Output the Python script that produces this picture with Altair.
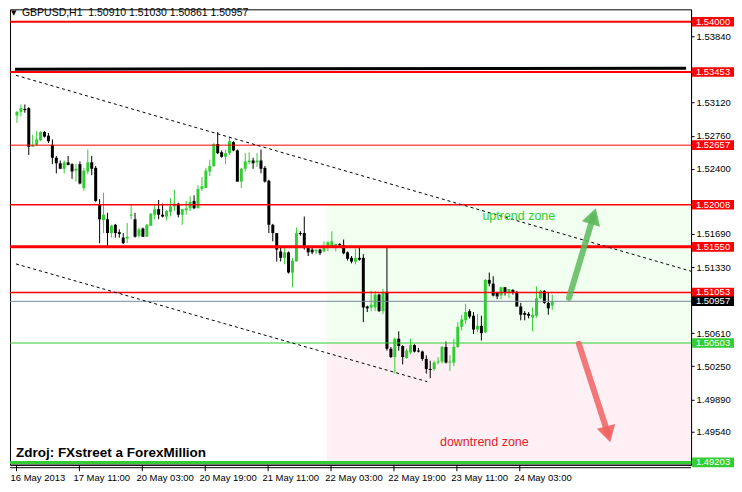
import altair as alt
import pandas as pd

# ---------------- data ----------------
opens = [1.5298, 1.5302, 1.5305, 1.5306, 1.5264, 1.5266, 1.5271, 1.5280, 1.5276, 1.5266,
         1.5252, 1.5246, 1.5240, 1.5247, 1.5245, 1.5238, 1.5245, 1.5219, 1.5237, 1.5247,
         1.5241, 1.5201, 1.5184, 1.5185, 1.5170, 1.5179, 1.5171, 1.5165, 1.5164, 1.5189,
         1.5185, 1.5167, 1.5175, 1.5166, 1.5178, 1.5190, 1.5196, 1.5190, 1.5188, 1.5193,
         1.5199, 1.5202, 1.5190, 1.5195, 1.5197, 1.5205, 1.5197, 1.5218, 1.5219, 1.5237,
         1.5243, 1.5267, 1.5258, 1.5253, 1.5257, 1.5269, 1.5260, 1.5226, 1.5240, 1.5247,
         1.5249, 1.5247, 1.5249, 1.5241, 1.5227, 1.5179, 1.5170, 1.5150, 1.5143, 1.5149,
         1.5127, 1.5139, 1.5170, 1.5170, 1.5154, 1.5152, 1.5150, 1.5152, 1.5150, 1.5154,
         1.5156, 1.5155, 1.5158, 1.5157, 1.5149, 1.5143, 1.5139, 1.5143, 1.5143, 1.5090,
         1.5089, 1.5089, 1.5103, 1.5085, 1.5106, 1.5044, 1.5035, 1.5055, 1.5047, 1.5034,
         1.5040, 1.5048, 1.5042, 1.5041, 1.5033, 1.5022, 1.5022, 1.5029, 1.5030, 1.5046,
         1.5029, 1.5029, 1.5046, 1.5068, 1.5075, 1.5085, 1.5080, 1.5065, 1.5069, 1.5062,
         1.5119, 1.5115, 1.5105, 1.5102, 1.5111, 1.5105, 1.5108, 1.5106, 1.5090, 1.5083,
         1.5082, 1.5078, 1.5080, 1.5099, 1.5107, 1.5094, 1.50910]
highs = [1.5303, 1.5310, 1.5310, 1.5307, 1.5277, 1.5281, 1.5281, 1.5281, 1.5279, 1.5272,
         1.5254, 1.5249, 1.5249, 1.5254, 1.5246, 1.5245, 1.5248, 1.5241, 1.5261, 1.5254,
         1.5243, 1.5207, 1.5214, 1.5192, 1.5179, 1.5180, 1.5174, 1.5170, 1.5181, 1.5201,
         1.5192, 1.5176, 1.5176, 1.5180, 1.5192, 1.5201, 1.5206, 1.5202, 1.5195, 1.5208,
         1.5217, 1.5203, 1.5196, 1.5205, 1.5210, 1.5211, 1.5222, 1.5231, 1.5241, 1.5250,
         1.5268, 1.5280, 1.5260, 1.5261, 1.5275, 1.5270, 1.5261, 1.5241, 1.5257, 1.5258,
         1.5252, 1.5257, 1.5261, 1.5243, 1.5228, 1.5180, 1.5170, 1.5156, 1.5156, 1.5150,
         1.5143, 1.5176, 1.5172, 1.5188, 1.5156, 1.5156, 1.5152, 1.5153, 1.5161, 1.5161,
         1.5172, 1.5158, 1.5159, 1.5163, 1.5150, 1.5145, 1.5153, 1.5154, 1.5147, 1.5091,
         1.5107, 1.5107, 1.5104, 1.5109, 1.5156, 1.5046, 1.5056, 1.5063, 1.5048, 1.5044,
         1.5055, 1.5049, 1.5045, 1.5042, 1.5037, 1.5031, 1.5031, 1.5035, 1.5047, 1.5052,
         1.5037, 1.5055, 1.5073, 1.5081, 1.5093, 1.5087, 1.5084, 1.5082, 1.5080, 1.5120,
         1.5127, 1.5123, 1.5106, 1.5111, 1.5111, 1.5109, 1.5109, 1.5107, 1.5094, 1.5085,
         1.5084, 1.5089, 1.5112, 1.5108, 1.5108, 1.5105, 1.51030]
lows = [1.5290, 1.5297, 1.5301, 1.5255, 1.5264, 1.5265, 1.5270, 1.5274, 1.5268, 1.5245,
        1.5235, 1.5240, 1.5235, 1.5244, 1.5229, 1.5226, 1.5223, 1.5216, 1.5234, 1.5233,
        1.5204, 1.5159, 1.5170, 1.5156, 1.5165, 1.5165, 1.5165, 1.5158, 1.5159, 1.5185,
        1.5165, 1.5165, 1.5166, 1.5166, 1.5178, 1.5185, 1.5185, 1.5187, 1.5184, 1.5188,
        1.5194, 1.5187, 1.5179, 1.5190, 1.5194, 1.5196, 1.5197, 1.5216, 1.5219, 1.5232,
        1.5242, 1.5256, 1.5252, 1.5245, 1.5255, 1.5259, 1.5226, 1.5219, 1.5237, 1.5245,
        1.5240, 1.5242, 1.5235, 1.5225, 1.5170, 1.5161, 1.5139, 1.5139, 1.5136, 1.5126,
        1.5111, 1.5139, 1.5167, 1.5152, 1.5145, 1.5147, 1.5147, 1.5146, 1.5149, 1.5150,
        1.5154, 1.5150, 1.5154, 1.5147, 1.5140, 1.5137, 1.5136, 1.5140, 1.5073, 1.5084,
        1.5085, 1.5085, 1.5084, 1.5082, 1.5042, 1.5034, 1.5017, 1.5042, 1.5027, 1.5033,
        1.5038, 1.5040, 1.5040, 1.5031, 1.5017, 1.5012, 1.5020, 1.5027, 1.5028, 1.5028,
        1.5020, 1.5025, 1.5045, 1.5064, 1.5071, 1.5077, 1.5060, 1.5062, 1.5053, 1.5061,
        1.5112, 1.5101, 1.5098, 1.5098, 1.5102, 1.5099, 1.5103, 1.5090, 1.5075, 1.5075,
        1.5077, 1.5063, 1.5078, 1.5098, 1.5093, 1.5081, 1.50861]
closes = [1.5302, 1.5306, 1.5304, 1.5264, 1.5266, 1.5272, 1.5280, 1.5275, 1.5270, 1.5252,
          1.5246, 1.5240, 1.5247, 1.5244, 1.5237, 1.5240, 1.5224, 1.5238, 1.5247, 1.5240,
          1.5205, 1.5185, 1.5190, 1.5170, 1.5178, 1.5170, 1.5169, 1.5159, 1.5166, 1.5190,
          1.5166, 1.5174, 1.5166, 1.5179, 1.5191, 1.5196, 1.5190, 1.5188, 1.5194, 1.5199,
          1.5202, 1.5190, 1.5196, 1.5197, 1.5204, 1.5197, 1.5218, 1.5221, 1.5238, 1.5243,
          1.5267, 1.5257, 1.5253, 1.5257, 1.5270, 1.5260, 1.5226, 1.5240, 1.5248, 1.5249,
          1.5246, 1.5249, 1.5240, 1.5226, 1.5179, 1.5170, 1.5152, 1.5143, 1.5149, 1.5127,
          1.5140, 1.5170, 1.5169, 1.5154, 1.5149, 1.5149, 1.5152, 1.5148, 1.5156, 1.5160,
          1.5161, 1.5158, 1.5157, 1.5148, 1.5142, 1.5139, 1.5143, 1.5141, 1.5089, 1.5088,
          1.5092, 1.5103, 1.5085, 1.5106, 1.5044, 1.5035, 1.5055, 1.5047, 1.5035, 1.5042,
          1.5048, 1.5041, 1.5041, 1.5033, 1.5022, 1.5021, 1.5029, 1.5030, 1.5046, 1.5029,
          1.5030, 1.5046, 1.5068, 1.5076, 1.5084, 1.5079, 1.5065, 1.5069, 1.5061, 1.5119,
          1.5115, 1.5102, 1.5101, 1.5111, 1.5105, 1.5109, 1.5105, 1.5090, 1.5081, 1.5081,
          1.5080, 1.5081, 1.5099, 1.5107, 1.5094, 1.5088, 1.50957]

x_tick_labels = ["16 May 2013", "17 May 11:00", "20 May 03:00", "20 May 19:00",
                 "21 May 11:00", "22 May 03:00", "22 May 19:00", "23 May 11:00",
                 "24 May 03:00"]
x_tick_pos = [16 * j - 0.25 for j in range(len(x_tick_labels))]

y_ticks = [1.5384, 1.5312, 1.5276, 1.5240, 1.5169, 1.5133,
           1.5061, 1.5025, 1.4989, 1.4954]

level_prices = [1.54000, 1.53453, 1.52657, 1.52008, 1.51550, 1.51053, 1.50957, 1.50503, 1.49203]
level_colors = ["#ff0000"] * 6 + ["#778899", "#32cd32", "#32cd32"]
level_widths = [2, 2, 1, 1.5, 3, 1.5, 1, 1, 3]
box_colors = ["#ff0000"] * 6 + ["#000000", "#32cd32", "#32cd32"]

# zones
zone_start = [78.75, 78.75]
zone_top = [1.52008, 1.50503]
zone_bottom = [1.50503, 1.49203]
zone_colors = ["#f0fff0", "#fff0f5"]

# trend lines (bar index, price)
upper_k = [-0.25, 172.75]
upper_p = [1.53418, 1.51266]
lower_k = [-0.25, 104.25]
lower_p = [1.51364, 1.50082]
flat_k = [-0.5, 170.0]
flat_p = [1.53484, 1.53495]

# arrows: tail and head centre
green_arrow_k = [140.25, 146.45]
green_arrow_p = [1.50995, 1.51884]
red_arrow_k = [142.75, 150.2]
red_arrow_p = [1.50495, 1.49509]

# ---------------- chart ----------------
W, H = 682, 456
xs = alt.Scale(domain=[-0.5, 170.0], nice=False, zero=False)
ys = alt.Scale(domain=[1.49178, 1.54136], nice=False, zero=False)
FONT = "Liberation Sans"

n = len(opens)
c = pd.DataFrame({"i": list(range(n)), "open": opens, "high": highs,
                  "low": lows, "close": closes})
c["color"] = ["#32cd32" if cl >= op else "#000000" for op, cl in zip(opens, closes)]
lo = c[["open", "close"]].min(axis=1)
hi = c[["open", "close"]].max(axis=1)
mid = (lo + hi) / 2
min_body = 0.00011
small = (hi - lo) < min_body
c["blo"] = lo.where(~small, mid - min_body / 2)
c["bhi"] = hi.where(~small, mid + min_body / 2)

labels_js = "[" + ",".join("'" + s + "'" for s in x_tick_labels) + "]"
x_axis = alt.Axis(values=x_tick_pos, labelExpr=labels_js + "[round((datum.value + 0.25) / 16)]",
                  labelAlign="left", labelOffset=-6, labelFlush=False, tickSize=6,
                  labelPadding=2, labelFontSize=9.5, labelFont=FONT, labelColor="black",
                  tickColor="black", domainColor="black", title=None, grid=False,
                  labelOverlap=False)
y_axis = alt.Axis(orient="right", values=y_ticks, format=".5f", tickSize=3, labelPadding=2,
                  labelFontSize=9.5, labelFont=FONT, labelColor="black", tickColor="black",
                  domainColor="black", title=None, grid=False, labelOverlap=False)


def X(f):
    return alt.X(f, scale=xs, axis=x_axis)


def Y(f):
    return alt.Y(f, scale=ys, axis=y_axis)


zones = alt.Chart(pd.DataFrame({"k": zone_start, "top": zone_top, "bot": zone_bottom,
                                "col": zone_colors})).mark_rect().encode(
    x=X("k:Q"), x2=alt.value(W), y=Y("top:Q"), y2="bot:Q",
    color=alt.Color("col:N", scale=None),
)

wicks = alt.Chart(c).mark_rule(strokeWidth=1).encode(
    x=X("i:Q"), y=Y("low:Q"), y2="high:Q", color=alt.Color("color:N", scale=None))
bodies = alt.Chart(c).mark_bar(size=3).encode(
    x=X("i:Q"), y=Y("blo:Q"), y2="bhi:Q", color=alt.Color("color:N", scale=None))

levels = alt.Chart(pd.DataFrame({"p": level_prices, "col": level_colors,
                                 "w": level_widths})).mark_rule().encode(
    y=Y("p:Q"),
    color=alt.Color("col:N", scale=None),
    strokeWidth=alt.StrokeWidth("w:Q", scale=None),
)

flat = alt.Chart(pd.DataFrame({"k": flat_k, "p": flat_p})).mark_line(
    color="black", strokeWidth=3, clip=True).encode(x=X("k:Q"), y=Y("p:Q"))
upper = alt.Chart(pd.DataFrame({"k": upper_k, "p": upper_p})).mark_line(
    color="black", strokeWidth=1, strokeDash=[3, 3], clip=True).encode(x=X("k:Q"), y=Y("p:Q"))
lower = alt.Chart(pd.DataFrame({"k": lower_k, "p": lower_p})).mark_line(
    color="black", strokeWidth=1, strokeDash=[3, 3], clip=True).encode(x=X("k:Q"), y=Y("p:Q"))


def arrow(ks, ps, col, angle):
    d = pd.DataFrame({"k": ks, "p": ps})
    shaft = alt.Chart(d).mark_line(color=col, strokeWidth=6, opacity=0.85,
                                   strokeCap="round").encode(x=X("k:Q"), y=Y("p:Q"))
    head = alt.Chart(d.iloc[[1]]).mark_point(shape="triangle-up", filled=True, size=360,
                                             color=col, opacity=0.9, angle=angle).encode(
        x=X("k:Q"), y=Y("p:Q"))
    return shaft + head


g_arrow = arrow(green_arrow_k, green_arrow_p, "#5cb85c", 17)
r_arrow = arrow(red_arrow_k, red_arrow_p, "#f06262", 165)

zone_text = alt.Chart(pd.DataFrame({
    "k": [127.5, 118.75], "p": [1.51886, 1.49429],
    "t": ["uptrend zone", "downtrend zone"], "col": ["#32cd32", "#e0202a"]})).mark_text(
    font=FONT, fontSize=12.5, align="center", baseline="middle").encode(
    x=X("k:Q"), y=Y("p:Q"), text="t:N", color=alt.Color("col:N", scale=None))

one = pd.DataFrame({"a": [0]})
header = alt.Chart(one).mark_text(
    text="GBPUSD,H1\u00a0\u00a01.50910 1.51030 1.50861 1.50957", font=FONT, fontSize=10.5,
    align="left", baseline="middle", color="black").encode(x=alt.value(12), y=alt.value(4))
header_tri = alt.Chart(one).mark_text(
    text="\u25bc", font="DejaVu Sans", fontSize=7, align="left", baseline="middle",
    color="black").encode(x=alt.value(1), y=alt.value(4))
source = alt.Chart(one).mark_text(
    text="Zdroj: FXstreet a ForexMillion", font=FONT,
    fontSize=13.5, fontWeight="bold", align="left", baseline="middle",
    color="black").encode(x=alt.value(6), y=alt.value(444))

boxes_df = pd.DataFrame({"p": level_prices, "col": box_colors,
                         "t": ["%.5f" % v for v in level_prices]})
half = 4.8 / 9197
boxes_df["top"] = boxes_df["p"] + half
boxes_df["bot"] = boxes_df["p"] - half
boxes = alt.Chart(boxes_df).mark_rect().encode(
    x=alt.value(W + 1), x2=alt.value(W + 43),
    y=Y("top:Q"), y2="bot:Q",
    color=alt.Color("col:N", scale=None))
box_text = alt.Chart(boxes_df).mark_text(
    font=FONT, fontSize=9.5, align="center", baseline="middle", color="white").encode(
    x=alt.value(W + 22), y=Y("p:Q"), text="t:N")

second_line = alt.Chart(one).mark_rule(color="black", strokeWidth=1).encode(
    x=alt.value(0), x2=alt.value(W), y=alt.value(H + 3))

chart = alt.layer(
    zones, wicks, bodies, levels, flat, upper, lower, g_arrow, r_arrow,
    zone_text, header_tri, header, source, boxes, box_text, second_line
).properties(
    width=W, height=H, padding=0, background="white"
).configure_view(stroke="black", strokeWidth=1)

chart.save("out.html", embed_options={"renderer": "svg", "actions": False})
